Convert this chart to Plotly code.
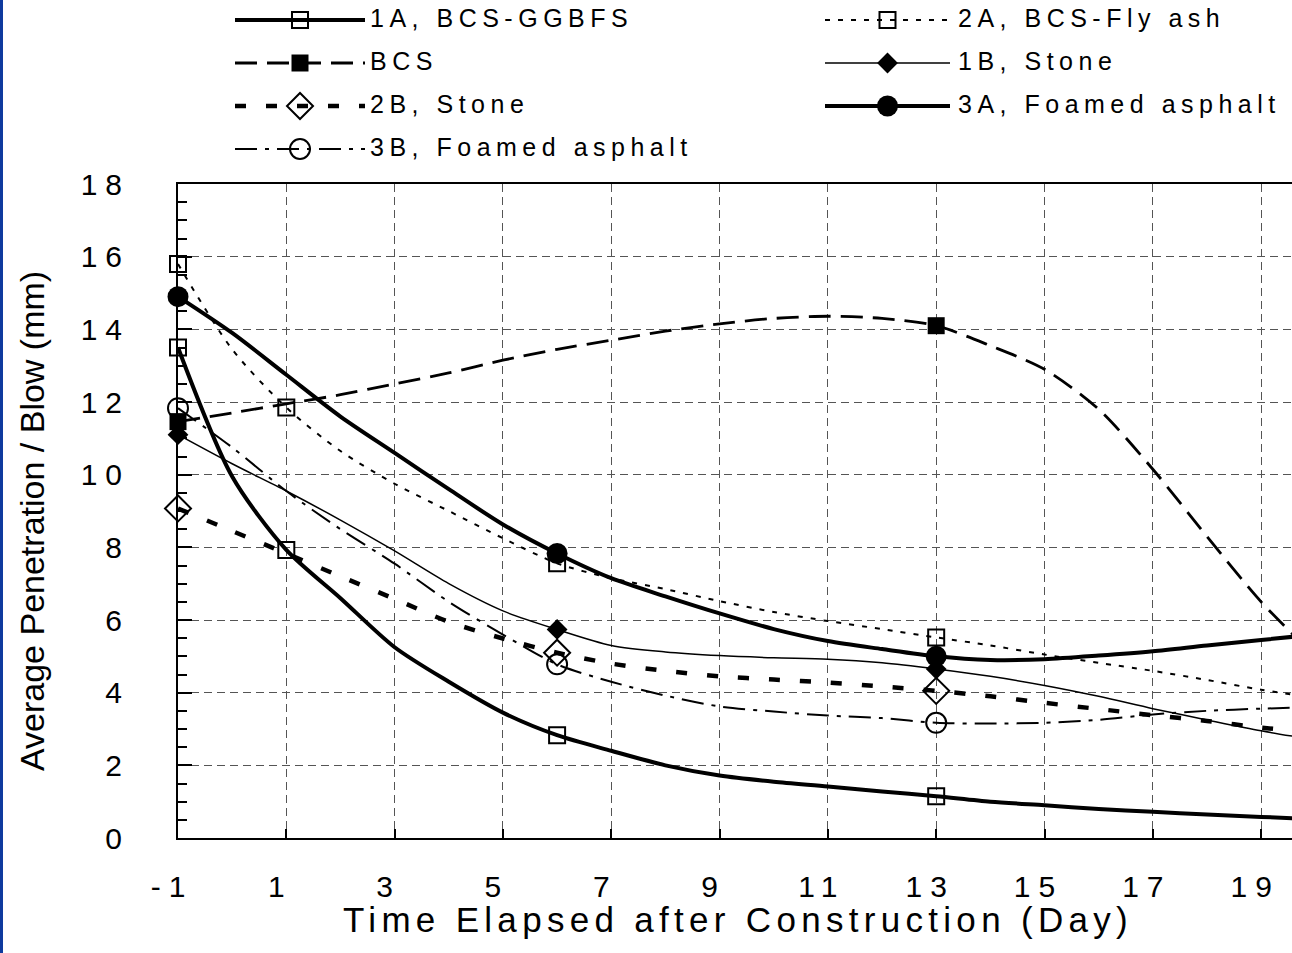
import plotly.graph_objects as go

# ---------------- data ----------------
days = list(range(-1, 21))

pen_1a = [13.5, 9.95, 7.93, 6.6, 5.25, 4.3, 3.45, 2.83, 2.4, 2.0, 1.72, 1.55,
          1.42, 1.28, 1.15, 1.0, 0.9, 0.8, 0.72, 0.65, 0.58, 0.52]
pen_2a = [15.8, 13.45, 11.85, 10.65, 9.75, 9.0, 8.25, 7.56, 7.15, 6.85, 6.52, 6.22,
          5.97, 5.75, 5.52, 5.3, 5.05, 4.82, 4.6, 4.35, 4.08, 3.85]
pen_bcs = [11.46, 11.7, 11.95, 12.2, 12.5, 12.8, 13.15, 13.45, 13.7, 13.95, 14.15, 14.3,
           14.36, 14.3, 14.1, 13.55, 12.9, 11.8, 10.15, 8.3, 6.5, 5.0]
pen_1b = [11.1, 10.3, 9.55, 8.75, 7.9, 7.0, 6.25, 5.74, 5.3, 5.12, 5.02, 4.96,
          4.92, 4.82, 4.65, 4.45, 4.2, 3.9, 3.56, 3.25, 2.95, 2.7]
pen_2b = [9.07, 8.45, 7.83, 7.2, 6.58, 5.95, 5.49, 5.1, 4.8, 4.6, 4.45, 4.36,
          4.28, 4.17, 4.05, 3.9, 3.72, 3.55, 3.38, 3.22, 3.04, 2.9]
pen_3a = [14.9, 13.9, 12.75, 11.6, 10.6, 9.6, 8.63, 7.83, 7.15, 6.65, 6.18, 5.75,
          5.42, 5.2, 5.0, 4.9, 4.92, 5.02, 5.14, 5.3, 5.45, 5.6]
pen_3b = [11.83, 10.75, 9.55, 8.5, 7.55, 6.5, 5.6, 4.78, 4.3, 3.92, 3.62, 3.48,
          3.37, 3.3, 3.17, 3.15, 3.17, 3.25, 3.4, 3.5, 3.56, 3.6]

# days on which a symbol is drawn for each section
marked_1a = [-1, 1, 6, 13]
marked_2a = [-1, 1, 6, 13]
marked_bcs = [-1, 13]
marked_1b = [-1, 6, 13]
marked_2b = [-1, 6, 13]
marked_3a = [-1, 6, 13]
marked_3b = [-1, 6, 13]

series_names = ["1A, BCS-GGBFS", "2A, BCS-Fly ash", "BCS", "1B, Stone",
                "2B, Stone", "3A, Foamed asphalt", "3B, Foamed asphalt"]

x_ticks = [-1, 1, 3, 5, 7, 9, 11, 13, 15, 17, 19]
y_ticks = [0, 2, 4, 6, 8, 10, 12, 14, 16, 18]

# ---------------- styles ----------------
FONT = "Liberation Sans, Arial, sans-serif"
W, H = 1292, 953
BLACK = "#000000"

styles = {
    "1A, BCS-GGBFS": dict(width=4, dash="solid", symbol="square-open", size=16, mlw=2),
    "2A, BCS-Fly ash": dict(width=2, dash="5px,8px", symbol="square-open", size=16, mlw=2),
    "BCS": dict(width=2.8, dash="22px,10px", symbol="square", size=17, mlw=0),
    "1B, Stone": dict(width=1.5, dash="solid", symbol="diamond", size=16, mlw=0),
    "2B, Stone": dict(width=4.5, dash="11px,20px", symbol="diamond-open", size=20, mlw=2),
    "3A, Foamed asphalt": dict(width=4, dash="solid", symbol="circle", size=21, mlw=0),
    "3B, Foamed asphalt": dict(width=2, dash="22px,8px,4px,8px", symbol="circle-open", size=20, mlw=2),
}

values = [pen_1a, pen_2a, pen_bcs, pen_1b, pen_2b, pen_3a, pen_3b]
marks = [marked_1a, marked_2a, marked_bcs, marked_1b, marked_2b, marked_3a, marked_3b]

# plot-area placement (pixels)
PLOT_L, PLOT_T, PLOT_B = 178, 184, 838
KEY_H = 175
X_MIN, X_MAX = -1, 19.57
Y_MIN, Y_MAX = 0, 18

fig = go.Figure()

for name, vals in zip(series_names, values):
    st = styles[name]
    fig.add_trace(go.Scatter(
        x=days, y=vals, mode="lines", name=name, showlegend=False,
        line=dict(color=BLACK, width=st["width"], dash=st["dash"], shape="spline", smoothing=0.8),
        hoverinfo="skip"))

for name, vals, mk in zip(series_names, values, marks):
    st = styles[name]
    mx = [d for d in days if d in mk]
    my = [vals[days.index(d)] for d in mx]
    fig.add_trace(go.Scatter(
        x=mx, y=my, mode="markers", name=name, showlegend=False,
        marker=dict(symbol=st["symbol"], size=st["size"], color=BLACK,
                    line=dict(color=BLACK, width=st["mlw"])),
        cliponaxis=False, hoverinfo="skip"))

# ---------------- key (two columns, drawn on a pixel-scaled helper axis) ----------------
KEY_ROWS_Y = [20, 63, 106, 149]
KEY_COLS = [(235, 365, 370), (825, 950, 958)]   # line start, line end, text start
for i, name in enumerate(series_names):
    st = styles[name]
    row, col = i // 2, i % 2
    x0, x1, xt = KEY_COLS[col]
    yy = KEY_ROWS_Y[row]
    fig.add_trace(go.Scatter(
        x=[x0, x1], y=[yy, yy], mode="lines", xaxis="x2", yaxis="y2", showlegend=False,
        line=dict(color=BLACK, width=st["width"], dash=st["dash"]), hoverinfo="skip"))
    fig.add_trace(go.Scatter(
        x=[(x0 + x1) / 2], y=[yy], mode="markers", xaxis="x2", yaxis="y2", showlegend=False,
        marker=dict(symbol=st["symbol"], size=st["size"], color=BLACK,
                    line=dict(color=BLACK, width=st["mlw"])), hoverinfo="skip"))
    fig.add_trace(go.Scatter(
        x=[xt], y=[yy + 1], mode="text", text=[name], textposition="middle right",
        xaxis="x2", yaxis="y2", showlegend=False,
        textfont=dict(family=FONT, size=25, color=BLACK), hoverinfo="skip"))

grid = dict(showgrid=True, gridcolor="#555555", gridwidth=1, griddash="8px,5px")

fig.update_layout(
    width=W, height=H,
    margin=dict(l=0, r=0, t=0, b=0, pad=0, autoexpand=False),
    paper_bgcolor="white", plot_bgcolor="rgba(0,0,0,0)",
    font=dict(family=FONT, color=BLACK),
    showlegend=False,
    xaxis=dict(
        domain=[PLOT_L / W, 1.0], range=[X_MIN, X_MAX],
        tickmode="array", tickvals=x_ticks, ticktext=[str(v) for v in x_ticks],
        ticks="inside", ticklen=9, tickwidth=1.5, tickcolor=BLACK,
        showline=True, linewidth=2, linecolor=BLACK, mirror=True,
        zeroline=False, tickfont=dict(family=FONT, size=30, color=BLACK),
        ticklabelstandoff=21, ticklabelshift=-6, anchor="y", **grid),
    yaxis=dict(
        domain=[(H - PLOT_B) / H, (H - PLOT_T) / H], range=[Y_MIN, Y_MAX],
        tickmode="array", tickvals=y_ticks, ticktext=[str(v) for v in y_ticks],
        ticks="inside", ticklen=14, tickwidth=1.5, tickcolor=BLACK,
        minor=dict(dtick=0.5, tick0=0, ticks="inside", ticklen=9, tickwidth=1.5,
                   tickcolor=BLACK, showgrid=False),
        showline=True, linewidth=2, linecolor=BLACK, mirror=False,
        zeroline=False, tickfont=dict(family=FONT, size=30, color=BLACK),
        ticklabelstandoff=40, anchor="x", **grid),
    xaxis2=dict(domain=[0, 1], range=[0, W], visible=False, anchor="y2", fixedrange=True),
    yaxis2=dict(domain=[(H - KEY_H) / H, 1], range=[KEY_H, 0], visible=False,
                anchor="x2", fixedrange=True),
    annotations=[
        dict(text="Time Elapsed after Construction (Day)", xref="paper", yref="paper",
             x=738 / W, y=(H - 919) / H, xanchor="center", yanchor="middle",
             showarrow=False, font=dict(family=FONT, size=35, color=BLACK)),
        dict(text="Average Penetration / Blow (mm)", xref="paper", yref="paper",
             x=32 / W, y=(H - 521) / H, xanchor="center", yanchor="middle", textangle=-90,
             showarrow=False, font=dict(family=FONT, size=34, color=BLACK)),
    ],
    shapes=[
        dict(type="rect", xref="paper", yref="paper", x0=0, x1=3 / W, y0=0, y1=1,
             fillcolor="#0e3a9e", line=dict(width=0), layer="above"),
    ],
)

# widen character spacing of the horizontal labels
spacing_js = """
var gd = document.getElementById('{plot_id}');
function spread(sel, v) {
  gd.querySelectorAll(sel).forEach(function (t) { t.style.letterSpacing = v; });
}
spread('g.xtick text', '8px');
spread('g.ytick text', '8px');
spread('g.textpoint text', '5.5px');
spread('g.annotation[data-index="0"] text', '5.3px');
"""

fig.write_html("out.html", post_script=spacing_js)
